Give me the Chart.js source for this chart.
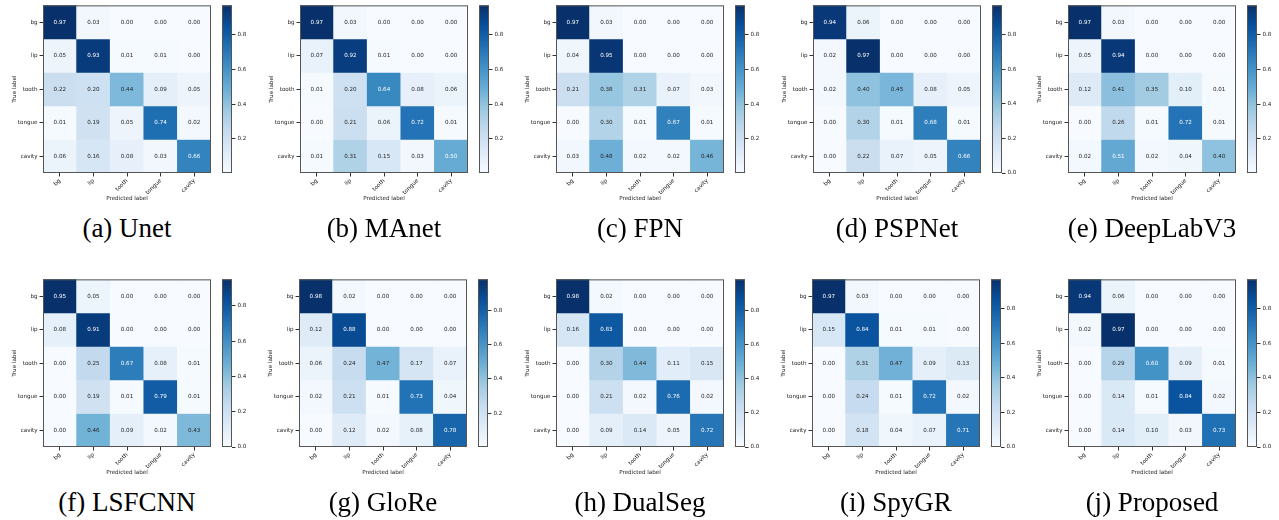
<!DOCTYPE html>
<html>
<head>
<meta charset="utf-8">
<script src="https://cdn.jsdelivr.net/npm/chart.js@4.4.1/dist/chart.umd.min.js"></script>
<style>
  body { margin: 0; background: #fff; width: 1279px; height: 520px; position: relative; overflow: hidden; }
  canvas { position: absolute; }
  .cap { position: absolute; font-family: 'Liberation Serif', 'Times New Roman', serif; font-size: 27px;
         line-height: 30px; white-space: nowrap; transform: translateX(-50%); color: #000; }
</style>
</head>
<body>
<script>
// classes on both axes
const classes = ['bg', 'lip', 'tooth', 'tongue', 'cavity'];
const captions = ['(a) Unet', '(b) MAnet', '(c) FPN', '(d) PSPNet', '(e) DeepLabV3',
                  '(f) LSFCNN', '(g) GloRe', '(h) DualSeg', '(i) SpyGR', '(j) Proposed'];

// confusion matrices, rows = true label, cols = predicted label
const unet = [
  [0.97, 0.03, 0.00, 0.00, 0.00],
  [0.05, 0.93, 0.01, 0.01, 0.00],
  [0.22, 0.20, 0.44, 0.09, 0.05],
  [0.01, 0.19, 0.05, 0.74, 0.02],
  [0.06, 0.16, 0.08, 0.03, 0.66]];
const manet = [
  [0.97, 0.03, 0.00, 0.00, 0.00],
  [0.07, 0.92, 0.01, 0.00, 0.00],
  [0.01, 0.20, 0.64, 0.08, 0.06],
  [0.00, 0.21, 0.06, 0.72, 0.01],
  [0.01, 0.31, 0.15, 0.03, 0.50]];
const fpn = [
  [0.97, 0.03, 0.00, 0.00, 0.00],
  [0.04, 0.95, 0.00, 0.00, 0.00],
  [0.21, 0.38, 0.31, 0.07, 0.03],
  [0.00, 0.30, 0.01, 0.67, 0.01],
  [0.03, 0.48, 0.02, 0.02, 0.46]];
const pspnet = [
  [0.94, 0.06, 0.00, 0.00, 0.00],
  [0.02, 0.97, 0.00, 0.00, 0.00],
  [0.02, 0.40, 0.45, 0.08, 0.05],
  [0.00, 0.30, 0.01, 0.68, 0.01],
  [0.00, 0.22, 0.07, 0.05, 0.66]];
const deeplab = [
  [0.97, 0.03, 0.00, 0.00, 0.00],
  [0.05, 0.94, 0.00, 0.00, 0.00],
  [0.12, 0.41, 0.35, 0.10, 0.01],
  [0.00, 0.26, 0.01, 0.72, 0.01],
  [0.02, 0.51, 0.02, 0.04, 0.40]];
const lsfcnn = [
  [0.95, 0.05, 0.00, 0.00, 0.00],
  [0.08, 0.91, 0.00, 0.00, 0.00],
  [0.00, 0.25, 0.67, 0.08, 0.01],
  [0.00, 0.19, 0.01, 0.79, 0.01],
  [0.00, 0.46, 0.09, 0.02, 0.43]];
const glore = [
  [0.98, 0.02, 0.00, 0.00, 0.00],
  [0.12, 0.88, 0.00, 0.00, 0.00],
  [0.06, 0.24, 0.47, 0.17, 0.07],
  [0.02, 0.21, 0.01, 0.73, 0.04],
  [0.00, 0.12, 0.02, 0.08, 0.78]];
const dualseg = [
  [0.98, 0.02, 0.00, 0.00, 0.00],
  [0.16, 0.83, 0.00, 0.00, 0.00],
  [0.00, 0.30, 0.44, 0.11, 0.15],
  [0.00, 0.21, 0.02, 0.76, 0.02],
  [0.00, 0.09, 0.14, 0.05, 0.72]];
const spygr = [
  [0.97, 0.03, 0.00, 0.00, 0.00],
  [0.15, 0.84, 0.01, 0.01, 0.00],
  [0.00, 0.31, 0.47, 0.09, 0.13],
  [0.00, 0.24, 0.01, 0.72, 0.02],
  [0.00, 0.18, 0.04, 0.07, 0.71]];
const proposed = [
  [0.94, 0.06, 0.00, 0.00, 0.00],
  [0.02, 0.97, 0.00, 0.00, 0.00],
  [0.00, 0.29, 0.60, 0.09, 0.01],
  [0.00, 0.14, 0.01, 0.84, 0.02],
  [0.00, 0.14, 0.10, 0.03, 0.73]];
const matrices = [unet, manet, fpn, pspnet, deeplab, lsfcnn, glore, dualseg, spygr, proposed];

// colorbar tick labels per panel (some bars start a hair above 0, so no 0.0 tick)
const ticksNoZero = [0.2, 0.4, 0.6, 0.8];
const ticksZero = [0.0, 0.2, 0.4, 0.6, 0.8];
const cbarTicks = [ticksNoZero, ticksNoZero, ticksNoZero, ticksZero, ticksNoZero,
                   ticksZero, ticksNoZero, ticksZero, ticksZero, ticksZero];
const cbarMin = [0.004, 0.004, 0.004, 0, 0.004, 0, 0.004, 0, 0, 0];

// layout: top-left corner of each heatmap
const heatLeft = [43, 300, 556, 813, 1068, 43, 299, 556, 812, 1068];
const heatTop = [5, 5, 5, 5, 5, 279, 279, 279, 279, 279];
const SIZE = 168;

// matplotlib "Blues"
const bluesStops = ['#f7fbff', '#deebf7', '#c6dbef', '#9ecae1', '#6baed6', '#4292c6', '#2171b5', '#08519c', '#08306b'];
const hex = (h) => [1, 3, 5].map((k) => parseInt(h.slice(k, k + 2), 16));
function blues(t) {
  t = Math.max(0, Math.min(1, t)) * (bluesStops.length - 1);
  const i = Math.min(Math.floor(t), bluesStops.length - 2);
  const f = t - i;
  const a = hex(bluesStops[i]), b = hex(bluesStops[i + 1]);
  return `rgb(${a.map((c, k) => Math.round(c + (b[k] - c) * f)).join(',')})`;
}

const FONT = { family: "'DejaVu Sans', sans-serif", size: 5.6 };
const TXT = '#222';

const cellText = {
  id: 'cellText',
  afterDatasetsDraw(chart, args, opts) {
    const ctx = chart.ctx;
    ctx.save();
    ctx.font = "5.6px 'DejaVu Sans'";
    ctx.textAlign = 'center';
    ctx.textBaseline = 'middle';
    chart.data.datasets.forEach((ds, di) => {
      chart.getDatasetMeta(di).data.forEach((bar, j) => {
        const v = ds.values[j];
        ctx.fillStyle = v > opts.vmax / 2 ? '#fff' : '#262626';
        ctx.fillText(v.toFixed(2), bar.x, (bar.y + bar.base) / 2);
      });
    });
    const a = chart.chartArea;
    ctx.strokeStyle = '#555';
    ctx.lineWidth = 1;
    ctx.strokeRect(a.left + 0.5, a.top + 0.5, a.width - 1, a.height - 1);
    ctx.restore();
  }
};

const cbarFill = {
  id: 'cbarFill',
  beforeDatasetsDraw(chart) {
    const a = chart.chartArea;
    const ctx = chart.ctx;
    const g = ctx.createLinearGradient(0, a.bottom, 0, a.top);
    bluesStops.forEach((c, k) => g.addColorStop(k / (bluesStops.length - 1), c));
    ctx.save();
    ctx.fillStyle = g;
    ctx.fillRect(a.left, a.top, a.width, a.height);
    ctx.restore();
  },
  afterDraw(chart) {
    const a = chart.chartArea;
    const ctx = chart.ctx;
    ctx.save();
    ctx.strokeStyle = '#555';
    ctx.lineWidth = 1;
    ctx.strokeRect(a.left + 0.5, a.top + 0.5, a.width - 1, a.height - 1);
    ctx.restore();
  }
};

function addCanvas(left, top, w, h) {
  const cv = document.createElement('canvas');
  cv.width = w; cv.height = h;
  cv.style.left = left + 'px';
  cv.style.top = top + 'px';
  document.body.appendChild(cv);
  return cv;
}

matrices.forEach((m, i) => {
  const vmax = Math.max(...m.flat());
  const hx = heatLeft[i], hy = heatTop[i];

  // heatmap
  const cv = addCanvas(hx - 43, hy - 5, 43 + SIZE + 1, 5 + SIZE + 30);
  new Chart(cv, {
    type: 'bar',
    data: {
      labels: classes,
      datasets: m.map((row, r) => ({
        data: row.map(() => [r - 0.5, r + 0.5]),
        values: row,
        backgroundColor: row.map((v) => blues(v / vmax)),
        grouped: false,
        barPercentage: 1,
        categoryPercentage: 1,
        borderWidth: 0,
      })),
    },
    options: {
      responsive: false,
      animation: false,
      devicePixelRatio: 1,
      layout: { padding: { top: 5, right: 1, left: 0, bottom: 0 } },
      plugins: { legend: { display: false }, tooltip: { enabled: false }, cellText: { vmax } },
      scales: {
        x: {
          type: 'category',
          afterFit: (s) => { s.height = 30; },
          grid: { offset: false, drawOnChartArea: false, tickLength: 3.5, color: '#333' },
          border: { display: false },
          ticks: { font: FONT, color: TXT, maxRotation: 45, minRotation: 45, autoSkip: false, padding: 1 },
          title: { display: true, text: 'Predicted label', font: FONT, color: TXT, padding: { top: 0, bottom: 1 } },
        },
        y: {
          type: 'linear',
          min: -0.5,
          max: 4.5,
          reverse: true,
          afterFit: (s) => { s.width = 43; },
          afterBuildTicks: (s) => { s.ticks = classes.map((c, k) => ({ value: k })); },
          grid: { drawOnChartArea: false, tickLength: 3.5, color: '#333' },
          border: { display: false },
          ticks: { font: FONT, color: TXT, padding: 2, callback: (v) => classes[v] },
          title: { display: true, text: 'True label', font: FONT, color: TXT, padding: { top: 11, bottom: 0 } },
        },
      },
    },
    plugins: [cellText],
  });

  // colorbar
  const cb = addCanvas(hx + SIZE + 11, hy - 5, 10 + 30, 5 + SIZE + 30);
  new Chart(cb, {
    type: 'bar',
    data: { labels: [''], datasets: [] },
    options: {
      responsive: false,
      animation: false,
      devicePixelRatio: 1,
      layout: { padding: { top: 5, bottom: 30, left: 0, right: 0 } },
      plugins: { legend: { display: false }, tooltip: { enabled: false } },
      scales: {
        x: { display: false },
        y: {
          position: 'right',
          min: cbarMin[i],
          max: vmax,
          afterFit: (s) => { s.width = 30; },
          afterBuildTicks: (s) => { s.ticks = cbarTicks[i].map((v) => ({ value: v })); },
          grid: { drawOnChartArea: false, tickLength: 3.5, color: '#333' },
          border: { display: false },
          ticks: { font: FONT, color: TXT, padding: 2, callback: (v) => v.toFixed(1) },
        },
      },
    },
    plugins: [cbarFill],
  });

  // caption
  const cap = document.createElement('div');
  cap.className = 'cap';
  cap.textContent = captions[i];
  cap.style.left = (hx + SIZE / 2) + 'px';
  cap.style.top = (hy + 208) + 'px';
  document.body.appendChild(cap);
});
</script>
</body>
</html>
